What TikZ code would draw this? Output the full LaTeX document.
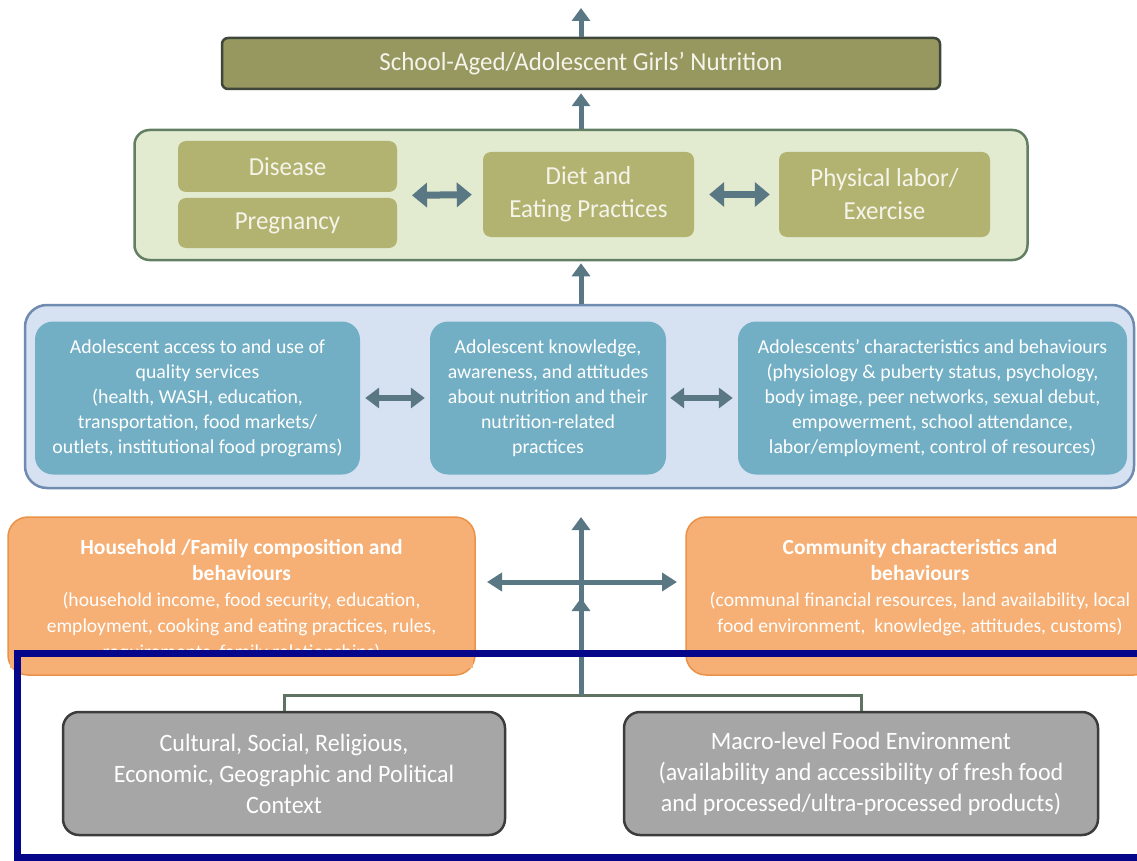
\documentclass[tikz,border=0pt]{standalone}
\usepackage{fontspec}
\setmainfont{Carlito}
\newfontfamily\condfont[FakeStretch=0.96]{Carlito}
\usetikzlibrary{arrows.meta}
\definecolor{arrowc}{HTML}{5A7883}
\definecolor{titlefill}{HTML}{979760}
\definecolor{titledraw}{HTML}{3F473A}
\definecolor{greenfill}{HTML}{E2EAD0}
\definecolor{greendraw}{HTML}{637F63}
\definecolor{olive}{HTML}{B3B371}
\definecolor{bluefill}{HTML}{D6E2F2}
\definecolor{bluedraw}{HTML}{6F8BB0}
\definecolor{teal}{HTML}{72AFC4}
\definecolor{orangefill}{HTML}{F6AF74}
\definecolor{orangedraw}{HTML}{EB9248}
\definecolor{grayfill}{HTML}{A6A6A6}
\definecolor{graydraw}{HTML}{3C3C3C}
\definecolor{navy}{HTML}{06068A}
\definecolor{treec}{HTML}{5E7361}
\definecolor{softwhite}{HTML}{F4F4EA}
\tikzset{
  titlebox/.style={draw=titledraw, line width=2.5pt, fill=titlefill, rounded corners=6pt, inner sep=0pt,
    text=softwhite, font=\condfont\fontsize{26}{30}\selectfont, align=center},
  outergreen/.style={draw=greendraw, line width=2.5pt, fill=greenfill, rounded corners=15pt, inner sep=0pt},
  olivebox/.style={fill=olive, rounded corners=8pt, inner sep=0pt, text=softwhite,
    font=\condfont\fontsize{26}{33}\selectfont, align=center},
  outerblue/.style={draw=bluedraw, line width=2.5pt, fill=bluefill, rounded corners=22pt, inner sep=0pt},
  tealbox/.style={fill=teal, rounded corners=18pt, inner sep=0pt, text=white,
    font=\fontsize{19.8}{25}\selectfont, align=center},
  orangebox/.style={draw=orangedraw, line width=1.5pt, fill=orangefill, rounded corners=20pt, inner sep=0pt},
  orangetext/.style={inner sep=0pt, text=white, font=\fontsize{19.6}{26}\selectfont, align=center, anchor=north},
  graybox/.style={draw=graydraw, line width=2.5pt, fill=grayfill, rounded corners=16pt, inner sep=0pt, text=white,
    font=\condfont\fontsize{25}{31}\selectfont, align=center},
  uparrow/.style={draw=arrowc, line width=5pt, -{Triangle[width=18pt,length=13pt]}},
  dblarrow/.style={draw=arrowc, line width=6pt, {Triangle[width=20pt,length=14pt]}-{Triangle[width=20pt,length=14pt]}},
  bigdbl/.style={draw=arrowc, line width=7pt, {Triangle[width=24pt,length=15pt]}-{Triangle[width=24pt,length=15pt]}},
  crossarrow/.style={draw=arrowc, line width=5pt, {Triangle[width=18pt,length=15pt]}-{Triangle[width=18pt,length=15pt]}},
  treeline/.style={draw=treec, line width=3pt},
  stemline/.style={draw=arrowc, line width=5pt},
}
\newcommand{\headline}[1]{{\fontsize{21.5}{26}\selectfont\bfseries #1}}
\begin{document}
\begin{tikzpicture}[x=1pt,y=-1pt]
\useasboundingbox (0,0) rectangle (1137,861);
\fill[white] (0,0) rectangle (1137,861);

% ---------- top ----------
\node[titlebox, minimum width=718pt, minimum height=51pt] (title) at (581,63.5) {School-Aged/Adolescent Girls’ Nutrition};
\coordinate (topend) at (581,8);
\draw[uparrow] (title.north) -- (topend);

% ---------- green layer ----------
\node[outergreen, minimum width=893pt, minimum height=130pt] (green) at (581,195) {};
\node[olivebox, minimum width=219pt, minimum height=51pt] (disease) at (287.5,166.5) {Disease};
\node[olivebox, minimum width=219pt, minimum height=50pt] (pregnancy) at (287.5,223) {Pregnancy};
\node[olivebox, minimum width=211pt, minimum height=85pt] (diet) at (588.5,194.5) {Diet and\\Eating Practices};
\node[olivebox, minimum width=211pt, minimum height=85pt] (phys) at (884.5,194.5) {Physical labor/\\Exercise};
\coordinate (dp) at (397,195.5);
\draw[bigdbl, shorten <=15pt, shorten >=11pt] (dp) -- (diet.west);
\draw[bigdbl, shorten <=15pt, shorten >=9pt] (diet.east) -- (phys.west);
\draw[uparrow, shorten >=3pt] (green.north) -- (title.south);

% ---------- blue layer ----------
\node[outerblue, minimum width=1109pt, minimum height=183pt] (blue) at (579.5,396.5) {};
\node[tealbox, minimum width=325pt, minimum height=153pt] (access) at (197.5,398)
  {Adolescent access to and use of\\quality services\\(health, WASH, education,\\transportation, food markets/\\outlets, institutional food programs)};
\node[tealbox, minimum width=236pt, minimum height=153pt] (know) at (548,398)
  {Adolescent knowledge,\\awareness, and attitudes\\about nutrition and their\\nutrition-related\\practices};
\node[tealbox, minimum width=389pt, minimum height=153pt] (charac) at (932.5,398)
  {Adolescents’ characteristics and behaviours\\(physiology \& puberty status, psychology,\\body image, peer networks, sexual debut,\\empowerment, school attendance,\\labor/employment, control of resources)};
\draw[dblarrow, shorten <=5pt, shorten >=5pt] (access.east) -- (know.west);
\draw[dblarrow, shorten <=4pt, shorten >=5pt] (know.east) -- (charac.west);
\draw[uparrow, shorten >=2pt] (green.south |- blue.north) -- (green.south);

% ---------- orange layer ----------
\node[orangebox, minimum width=467pt, minimum height=158pt] (hh) at (241.5,596) {};
\node[orangebox, minimum width=468pt, minimum height=158pt] (cc) at (920,596) {};
\node[orangetext] (hhtext) at (241.5,539) {\headline{Household /Family composition and}\\\headline{behaviours}\\(household income, food security, education,\\employment, cooking and eating practices, rules,\\requirements, family relationships)};
\node[orangetext] (cctext) at (920,539) {\headline{Community characteristics and}\\\headline{behaviours}\\(communal financial resources, land availability, local\\food environment,\ \ knowledge, attitudes, customs)};
\fill[orangefill] (10,651) rectangle (473,668);

% ---------- cross arrows ----------
\coordinate (j) at (581,695);
\coordinate (mid) at (581,582);
\coordinate (midtip) at (581,598);
\coordinate (crosstop) at (581,517);
\coordinate (cl) at (487,582);
\coordinate (cr) at (677,582);
\draw[stemline] (j) -- (mid);
\draw[uparrow] (j) -- (midtip);
\draw[uparrow] (mid) -- (crosstop);
\draw[crossarrow] (cl) -- (cr);

% ---------- bottom frame ----------
\draw[navy, line width=7pt] (17,653.5) rectangle (1150,857.5);

\node[graybox, minimum width=442pt, minimum height=123pt] (ctx) at (284,773.5)
  {Cultural, Social, Religious,\\Economic, Geographic and Political\\Context};
\node[graybox, minimum width=474pt, minimum height=123pt] (macro) at (861,773.5)
  {Macro-level Food Environment\\(availability and accessibility of fresh food\\and processed/ultra-processed products)};
\draw[treeline] (ctx.north) |- (j) -| (macro.north);
\draw[stemline] (j) -- ++(0,-5);
\end{tikzpicture}
\end{document}
